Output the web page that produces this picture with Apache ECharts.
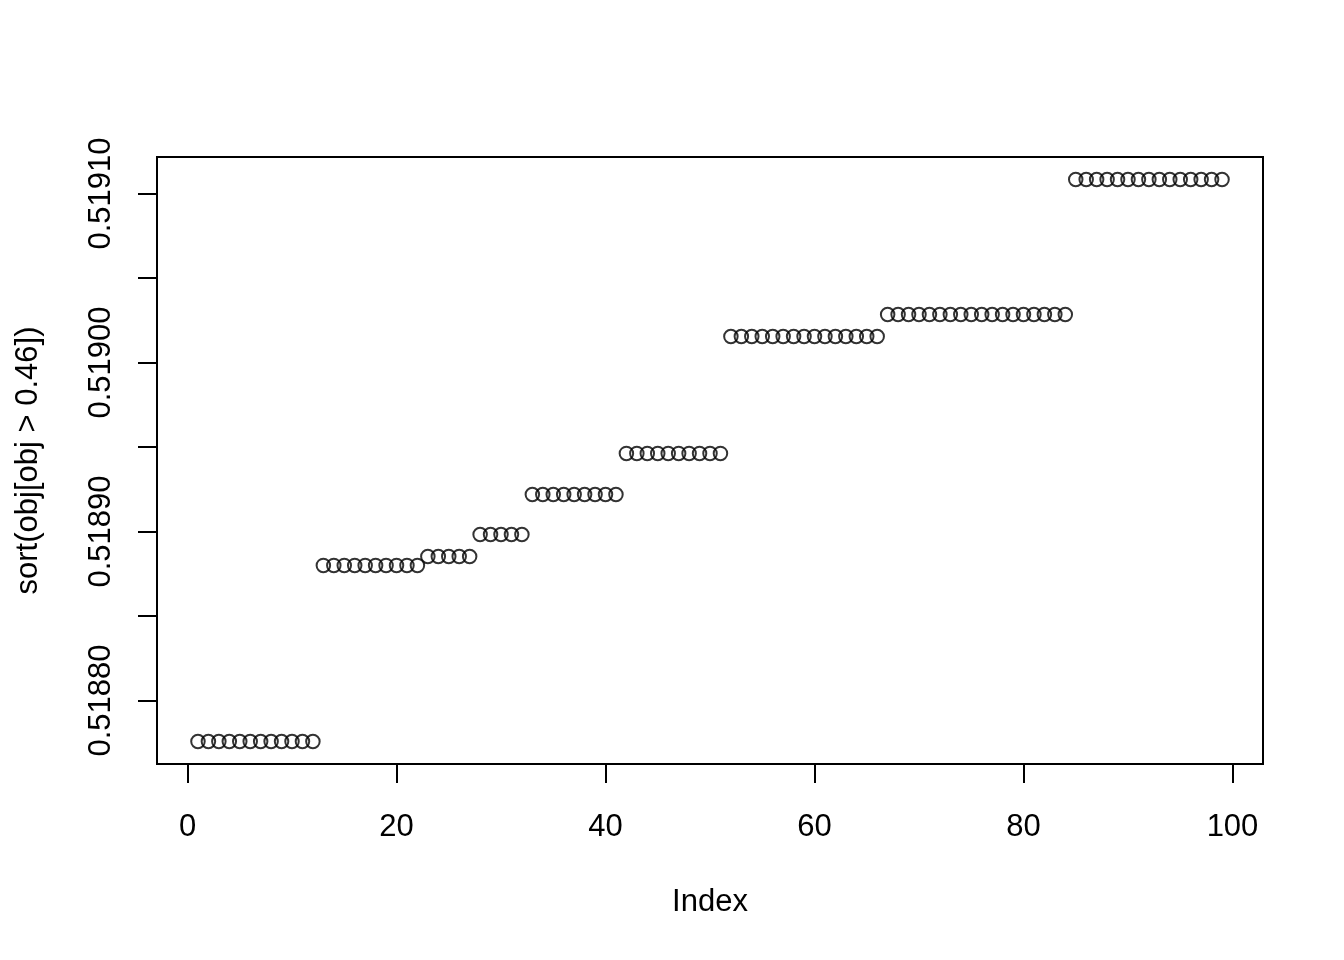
<!DOCTYPE html>
<html>
<head>
<meta charset="utf-8">
<script src="https://cdn.jsdelivr.net/npm/echarts@6/dist/echarts.min.js"></script>
<style>
html,body{margin:0;padding:0;background:#fff;}
#chart{width:1344px;height:960px;}
</style>
</head>
<body>
<div id="chart"></div>
<script>
// Sorted values, index 1..99
const values = [
  0.5187757,0.5187757,0.5187757,0.5187757,0.5187757,0.5187757,0.5187757,0.5187757,0.5187757,0.5187757,0.5187757,0.5187757,
  0.5188799,0.5188799,0.5188799,0.5188799,0.5188799,0.5188799,0.5188799,0.5188799,0.5188799,0.5188799,
  0.5188852,0.5188852,0.5188852,0.5188852,0.5188852,
  0.5188982,0.5188982,0.5188982,0.5188982,0.5188982,
  0.5189219,0.5189219,0.5189219,0.5189219,0.5189219,0.5189219,0.5189219,0.5189219,0.5189219,
  0.5189462,0.5189462,0.5189462,0.5189462,0.5189462,0.5189462,0.5189462,0.5189462,0.5189462,0.5189462,
  0.5190154,0.5190154,0.5190154,0.5190154,0.5190154,0.5190154,0.5190154,0.5190154,0.5190154,0.5190154,0.5190154,0.5190154,0.5190154,0.5190154,0.5190154,
  0.5190284,0.5190284,0.5190284,0.5190284,0.5190284,0.5190284,0.5190284,0.5190284,0.5190284,0.5190284,0.5190284,0.5190284,0.5190284,0.5190284,0.5190284,0.5190284,0.5190284,0.5190284,
  0.5191083,0.5191083,0.5191083,0.5191083,0.5191083,0.5191083,0.5191083,0.5191083,0.5191083,0.5191083,0.5191083,0.5191083,0.5191083,0.5191083,0.5191083
];
const xTicks = [0, 20, 40, 60, 80, 100];
const yTicks = [0.51880, 0.51885, 0.51890, 0.51895, 0.51900, 0.51905, 0.51910];
const yLabels = [0.51880, 0.51890, 0.51900, 0.51910];
const xTitle = 'Index';
const yTitle = 'sort(obj[obj > 0.46])';

const points = values.map((v, i) => [i + 1, v]);

// R-style 4% axis extension
const xMinD = 1, xMaxD = values.length;
const xPad = (xMaxD - xMinD) * 0.04;
const yMinD = Math.min(...values), yMaxD = Math.max(...values);
const yPad = (yMaxD - yMinD) * 0.04;

const FONT = '"Liberation Sans", Arial, Helvetica, sans-serif';
const FS = 31;

const chart = echarts.init(document.getElementById('chart'), null, {renderer: 'canvas'});
chart.setOption({
  backgroundColor: '#ffffff',
  animation: false,
  grid: {
    left: 157, right: 81, top: 157, bottom: 196,
    show: true, borderColor: '#000', borderWidth: 2, backgroundColor: 'transparent',
    containLabel: false, outerBoundsMode: 'none'
  },
  xAxis: {
    type: 'value',
    min: xMinD - xPad, max: xMaxD + xPad,
    name: xTitle, nameLocation: 'middle', nameGap: 123,
    nameTextStyle: {color: '#000', fontFamily: FONT, fontSize: FS},
    axisLine: {show: false, onZero: false},
    axisTick: {show: true, length: 19, inside: false, customValues: xTicks, lineStyle: {color: '#000', width: 2}},
    axisLabel: {show: true, customValues: xTicks, margin: 48, color: '#000', fontFamily: FONT, fontSize: FS,
      formatter: v => String(Math.round(v))},
    splitLine: {show: false}
  },
  yAxis: {
    type: 'value',
    min: yMinD - yPad, max: yMaxD + yPad,
    name: yTitle, nameLocation: 'middle', nameGap: 113, nameRotate: 90,
    nameTextStyle: {color: '#000', fontFamily: FONT, fontSize: FS},
    axisLine: {show: false, onZero: false},
    axisTick: {show: true, length: 19, inside: false, customValues: yTicks, lineStyle: {color: '#000', width: 2}},
    axisLabel: {show: true, customValues: yLabels, rotate: 90, margin: 40, color: '#000', fontFamily: FONT, fontSize: FS,
      formatter: v => v.toFixed(5)},
    splitLine: {show: false}
  },
  series: [{
    type: 'scatter',
    data: points,
    symbol: 'circle',
    symbolSize: 13.5,
    itemStyle: {color: 'rgba(0,0,0,0)', borderColor: '#000', borderWidth: 2},
    emphasis: {disabled: true},
    silent: true
  }]
});
</script>
</body>
</html>
